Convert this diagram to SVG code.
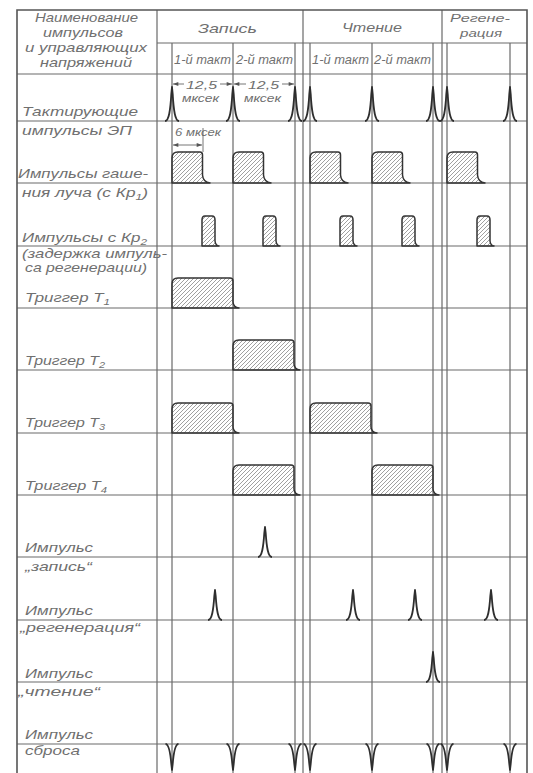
<svg xmlns="http://www.w3.org/2000/svg" width="533" height="773" viewBox="0 0 533 773">
<style>
.t{font-family:"Liberation Sans","DejaVu Sans",sans-serif;font-style:italic;font-size:13px;fill:#707070}
.s{font-size:11.5px}
.xs{font-size:10px}
.g{stroke:#6a6a6a;stroke-width:1.2;fill:none}
.b{stroke:#555;stroke-width:1.6;fill:none}
.p{fill:url(#hatch);stroke:#333;stroke-width:1.5;stroke-linejoin:round}
.k{fill:none;stroke:#2e2e2e;stroke-width:1.8;stroke-linejoin:round}
.d{stroke:#666;stroke-width:0.9;fill:none}
</style>
<defs>
<pattern id="hatch" patternUnits="userSpaceOnUse" width="4" height="4">
<path d="M-1,1 l2,-2 M0,4 l4,-4 M3,5 l2,-2" stroke="#777" stroke-width="0.7"/>
</pattern>
<marker id="ar" viewBox="0 0 8 6" refX="8" refY="3" markerWidth="6" markerHeight="4" orient="auto-start-reverse" markerUnits="userSpaceOnUse">
<path d="M0,0 L8,3 L0,6 Z" fill="#555"/>
</marker>
<path id="spk30" d="M-7,0 C-3,0 -1.6,-10 -0.7,-24 L0,-30 L0.7,-24 C1.6,-10 3,0 7,0"/>
<path id="spk34" d="M-7,0 C-3,0 -1.6,-11 -0.7,-27 L0,-34 L0.7,-27 C1.6,-11 3,0 7,0"/>
<path id="vee" d="M-6.5,0 C-3,0 -1.6,9 -0.7,20 L0,26 L0.7,20 C1.6,9 3,0 6.5,0"/>
<path id="ep" d="M0,0 L0,-25 Q0,-31 6,-31 L28,-31 Q30.5,-31 30.5,-28 L30.5,-8 Q31,-1 38,0 Z"/>
<path id="kr" d="M30,0 L30,-26 Q30,-30 33,-30 L40,-30 Q43,-30 43,-26 L43,-5 Q43.5,-0.5 47,0 Z"/>
<path id="trg" d="M0,0 L0,-24 Q0,-30 6,-30 L58,-30 Q61,-30 61,-27 L61,-6 Q61.5,-0.5 67,0 Z"/>
</defs>
<rect width="533" height="773" fill="#fff"/>

<g id="grid">
<path class="g" d="M157,43 H527 M17,74 H527 M17,121 H527 M17,183 H527 M17,246 H527 M17,308 H527 M17,370 H527 M17,433 H527 M17,495 H527 M17,557 H527 M17,620 H527 M17,682 H527 M17,744 H527"/>
<path class="g" d="M157,10 V773 M172,43 V773 M233,43 V773 M295,43 V773 M303,10 V773 M310,43 V773 M372,43 V773 M433,43 V773 M442,10 V773 M447,43 V773 M510,43 V773"/>
<path class="b" d="M17,773 V10 H527 V773"/>
</g>

<g id="header">
<text class="t" x="35" y="22" textLength="103" lengthAdjust="spacingAndGlyphs">Наименование</text>
<text class="t" x="43" y="37" textLength="80" lengthAdjust="spacingAndGlyphs">импульсов</text>
<text class="t" x="25" y="52" textLength="122" lengthAdjust="spacingAndGlyphs">и управляющих</text>
<text class="t" x="40" y="67" textLength="92" lengthAdjust="spacingAndGlyphs">напряжений</text>
<text class="t" x="198" y="33" textLength="59" lengthAdjust="spacingAndGlyphs">Запись</text>
<text class="t" x="342" y="32" textLength="60" lengthAdjust="spacingAndGlyphs">Чтение</text>
<text class="t s" x="450" y="22" textLength="60" lengthAdjust="spacingAndGlyphs">Регене-</text>
<text class="t s" x="460" y="37" textLength="42" lengthAdjust="spacingAndGlyphs">рация</text>
<text class="t" x="174" y="64" textLength="57" lengthAdjust="spacingAndGlyphs">1-й такт</text>
<text class="t" x="236" y="64" textLength="57" lengthAdjust="spacingAndGlyphs">2-й такт</text>
<text class="t" x="312" y="64" textLength="57" lengthAdjust="spacingAndGlyphs">1-й такт</text>
<text class="t" x="374" y="64" textLength="57" lengthAdjust="spacingAndGlyphs">2-й такт</text>
</g>

<g id="clock">
<text class="t" x="22" y="116" textLength="116" lengthAdjust="spacingAndGlyphs">Тактирующие</text>
<path class="d" marker-start="url(#ar)" d="M173,84 H184"/>
<path class="d" marker-end="url(#ar)" d="M220,84 H232"/>
<path class="d" marker-start="url(#ar)" d="M234,84 H246"/>
<path class="d" marker-end="url(#ar)" d="M282,84 H294"/>
<text class="t s" x="186" y="89" textLength="31" lengthAdjust="spacingAndGlyphs">12,5</text>
<text class="t xs" x="182" y="102" textLength="37" lengthAdjust="spacingAndGlyphs">мксек</text>
<text class="t s" x="248" y="89" textLength="31" lengthAdjust="spacingAndGlyphs">12,5</text>
<text class="t xs" x="244" y="102" textLength="37" lengthAdjust="spacingAndGlyphs">мксек</text>
<use href="#spk34" class="k" x="172" y="121"/>
<use href="#spk34" class="k" x="233" y="121"/>
<use href="#spk34" class="k" x="295" y="121"/>
<use href="#spk34" class="k" x="310" y="121"/>
<use href="#spk34" class="k" x="372" y="121"/>
<use href="#spk34" class="k" x="433" y="121"/>
<use href="#spk34" class="k" x="447" y="121"/>
<use href="#spk34" class="k" x="510" y="121"/>
</g>

<g id="blanking">
<text class="t" x="22" y="135" textLength="110" lengthAdjust="spacingAndGlyphs">импульсы ЭП</text>
<text class="t" x="18" y="178" textLength="130" lengthAdjust="spacingAndGlyphs">Импульсы гаше-</text>
<text class="t" x="22" y="197" textLength="126" lengthAdjust="spacingAndGlyphs">ния луча (с Кр<tspan dy="3" font-size="9">1</tspan><tspan dy="-3">)</tspan></text>
<text class="t xs" x="175" y="136" textLength="46" lengthAdjust="spacingAndGlyphs">6 мксек</text>
<path class="d" d="M203,128 V152"/>
<path class="d" marker-start="url(#ar)" marker-end="url(#ar)" d="M173,145 H202"/>
<use href="#ep" class="p" x="172" y="183"/>
<use href="#ep" class="p" x="233" y="183"/>
<use href="#ep" class="p" x="310" y="183"/>
<use href="#ep" class="p" x="372" y="183"/>
<use href="#ep" class="p" x="447" y="183"/>
</g>

<g id="kr2">
<text class="t" x="22" y="242" textLength="125" lengthAdjust="spacingAndGlyphs">Импульсы с Кр<tspan dy="3" font-size="9">2</tspan></text>
<text class="t" x="22" y="258" textLength="145" lengthAdjust="spacingAndGlyphs">(задержка импуль-</text>
<text class="t" x="25" y="272" textLength="122" lengthAdjust="spacingAndGlyphs">са регенерации)</text>
<use href="#kr" class="p" x="172" y="246"/>
<use href="#kr" class="p" x="233" y="246"/>
<use href="#kr" class="p" x="310" y="246"/>
<use href="#kr" class="p" x="372" y="246"/>
<use href="#kr" class="p" x="447" y="246"/>
</g>

<g id="trigger-t1">
<text class="t" x="25" y="302" textLength="85" lengthAdjust="spacingAndGlyphs">Триггер T<tspan dy="3" font-size="9">1</tspan></text>
<use href="#trg" class="p" x="172" y="308"/>
</g>

<g id="trigger-t2">
<text class="t" x="25" y="365" textLength="80" lengthAdjust="spacingAndGlyphs">Триггер T<tspan dy="3" font-size="9">2</tspan></text>
<use href="#trg" class="p" x="233" y="370"/>
</g>

<g id="trigger-t3">
<text class="t" x="25" y="427" textLength="80" lengthAdjust="spacingAndGlyphs">Триггер T<tspan dy="3" font-size="9">3</tspan></text>
<use href="#trg" class="p" x="172" y="433"/>
<use href="#trg" class="p" x="310" y="433"/>
</g>

<g id="trigger-t4">
<text class="t" x="25" y="490" textLength="82" lengthAdjust="spacingAndGlyphs">Триггер T<tspan dy="3" font-size="9">4</tspan></text>
<use href="#trg" class="p" x="233" y="495"/>
<use href="#trg" class="p" x="372" y="495"/>
</g>

<g id="pulse-write">
<text class="t" x="25" y="552" textLength="68" lengthAdjust="spacingAndGlyphs">Импульс</text>
<text class="t" x="25" y="571" textLength="67" lengthAdjust="spacingAndGlyphs">„запись“</text>
<use href="#spk30" class="k" x="265" y="557"/>
</g>

<g id="pulse-regen">
<text class="t" x="25" y="615" textLength="68" lengthAdjust="spacingAndGlyphs">Импульс</text>
<text class="t" x="20" y="632" textLength="120" lengthAdjust="spacingAndGlyphs">„регенерация“</text>
<use href="#spk30" class="k" x="215" y="620"/>
<use href="#spk30" class="k" x="353" y="620"/>
<use href="#spk30" class="k" x="415" y="620"/>
<use href="#spk30" class="k" x="491" y="620"/>
</g>

<g id="pulse-read">
<text class="t" x="25" y="678" textLength="68" lengthAdjust="spacingAndGlyphs">Импульс</text>
<text class="t" x="18" y="696" textLength="82" lengthAdjust="spacingAndGlyphs">„чтение“</text>
<use href="#spk30" class="k" x="433" y="682"/>
</g>

<g id="pulse-reset">
<text class="t" x="25" y="739" textLength="68" lengthAdjust="spacingAndGlyphs">Импульс</text>
<text class="t" x="25" y="755" textLength="55" lengthAdjust="spacingAndGlyphs">сброса</text>
<use href="#vee" class="k" x="172" y="744"/>
<use href="#vee" class="k" x="233" y="744"/>
<use href="#vee" class="k" x="295" y="744"/>
<use href="#vee" class="k" x="310" y="744"/>
<use href="#vee" class="k" x="372" y="744"/>
<use href="#vee" class="k" x="433" y="744"/>
<use href="#vee" class="k" x="447" y="744"/>
<use href="#vee" class="k" x="510" y="744"/>
</g>
</svg>
